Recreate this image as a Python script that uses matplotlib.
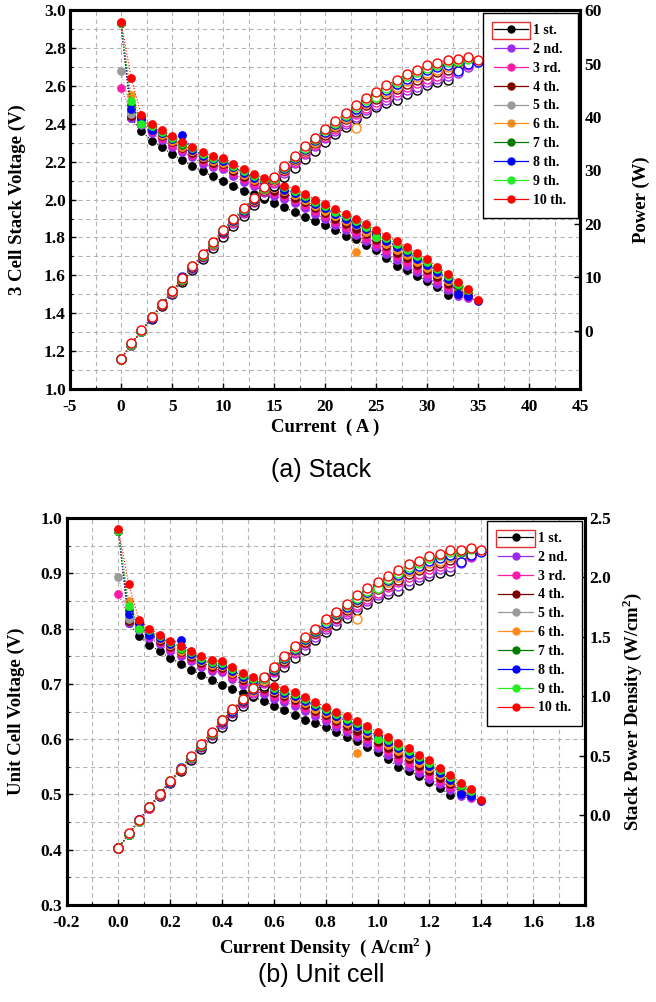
import numpy as np
import matplotlib
matplotlib.use("Agg")
import matplotlib.pyplot as plt
from matplotlib.lines import Line2D
from matplotlib.patches import Rectangle
from matplotlib.ticker import MultipleLocator, FixedLocator, FormatStrFormatter
from matplotlib.font_manager import FontProperties

# ---------------- data ----------------
current_A = [0, 1, 2, 3, 4, 5, 6, 7, 8, 9, 10, 11, 12, 13, 14, 15, 16, 17,
             18, 19, 20, 21, 22, 23, 24, 25, 26, 27, 28, 29, 30, 31, 32, 33, 34, 35]
current_density = [0.00, 0.04, 0.08, 0.12, 0.16, 0.20, 0.24, 0.28, 0.32, 0.36, 0.40, 0.44,
                   0.48, 0.52, 0.56, 0.60, 0.64, 0.68, 0.72, 0.76, 0.80, 0.84, 0.88, 0.92,
                   0.96, 1.00, 1.04, 1.08, 1.12, 1.16, 1.20, 1.24, 1.28, 1.32, 1.36, 1.40]

# 3-cell stack voltage (V)
v_1st = [2.93, 2.43, 2.36, 2.312, 2.277, 2.24, 2.21, 2.175, 2.15, 2.122, 2.096, 2.074,
         2.048, 2.03, 2.005, 1.982, 1.96, 1.933, 1.906, 1.886, 1.865, 1.84, 1.81, 1.792,
         1.76, 1.733, 1.69, 1.65, 1.628, 1.598, 1.57, 1.536, 1.497]
v_2nd = [2.93, 2.43, 2.395, 2.35, 2.315, 2.28, 2.25, 2.225, 2.19, 2.17, 2.162, 2.125,
         2.095, 2.07, 2.045, 2.02, 2.004, 1.981, 1.955, 1.925, 1.897, 1.868, 1.839, 1.813,
         1.781, 1.75, 1.715, 1.68, 1.651, 1.616, 1.586, 1.555, 1.522, 1.493, 1.478]
v_3rd = [2.59, 2.46, 2.405, 2.36, 2.325, 2.29, 2.261, 2.236, 2.202, 2.182, 2.174, 2.138,
         2.108, 2.083, 2.059, 2.034, 2.018, 1.996, 1.97, 1.94, 1.913, 1.884, 1.856, 1.83,
         1.799, 1.768, 1.734, 1.70, 1.671, 1.636, 1.606, 1.573, 1.539, 1.507, 1.488]
v_4th = [2.93, 2.44, 2.415, 2.37, 2.335, 2.302, 2.272, 2.247, 2.214, 2.194, 2.186, 2.151,
         2.121, 2.096, 2.073, 2.048, 2.032, 2.011, 1.985, 1.955, 1.929, 1.90, 1.873, 1.847,
         1.817, 1.786, 1.753, 1.72, 1.691, 1.656, 1.626, 1.591, 1.556, 1.521, 1.498]
v_5th = [2.68, 2.45, 2.425, 2.38, 2.345, 2.313, 2.283, 2.258, 2.226, 2.206, 2.198, 2.164,
         2.134, 2.109, 2.087, 2.062, 2.046, 2.026, 2.0, 1.97, 1.945, 1.916, 1.89, 1.864,
         1.835, 1.804, 1.772, 1.74, 1.711, 1.676, 1.646, 1.609, 1.573, 1.535, 1.508]
v_6th = [2.93, 2.55, 2.42, 2.378, 2.343, 2.31, 2.28, 2.255, 2.223, 2.203, 2.195, 2.161,
         2.131, 2.106, 2.084, 2.059, 2.043, 2.022, 1.996, 1.966, 1.941, 1.912, 1.886, 1.725,
         1.831, 1.80, 1.767, 1.735, 1.706, 1.671, 1.641, 1.605, 1.569, 1.532, 1.505]
v_7th = [2.93, 2.50, 2.433, 2.388, 2.353, 2.32, 2.29, 2.266, 2.235, 2.215, 2.207, 2.174,
         2.144, 2.119, 2.098, 2.073, 2.057, 2.037, 2.011, 1.981, 1.957, 1.928, 1.903, 1.877,
         1.849, 1.818, 1.786, 1.755, 1.726, 1.691, 1.661, 1.623, 1.586, 1.546, 1.516]
v_8th = [2.93, 2.48, 2.43, 2.365, 2.35, 2.318, 2.339, 2.264, 2.232, 2.212, 2.204, 2.17,
         2.14, 2.115, 2.094, 2.069, 2.053, 2.034, 2.008, 1.978, 1.953, 1.924, 1.898, 1.872,
         1.844, 1.813, 1.782, 1.75, 1.721, 1.686, 1.656, 1.618, 1.581, 1.50, 1.49, 1.462]
v_9th = [2.93, 2.52, 2.40, 2.39, 2.358, 2.327, 2.297, 2.272, 2.241, 2.221, 2.213, 2.18,
         2.15, 2.125, 2.104, 2.08, 2.064, 2.045, 2.019, 1.989, 1.965, 1.936, 1.911, 1.885,
         1.857, 1.80, 1.796, 1.765, 1.736, 1.701, 1.671, 1.632, 1.594, 1.553, 1.52]
v_10th = [2.94, 2.64, 2.445, 2.40, 2.365, 2.335, 2.305, 2.28, 2.25, 2.23, 2.222, 2.19,
          2.16, 2.135, 2.115, 2.09, 2.074, 2.056, 2.03, 2.0, 1.977, 1.948, 1.924, 1.898,
          1.871, 1.84, 1.81, 1.78, 1.751, 1.716, 1.686, 1.645, 1.607, 1.563, 1.528, 1.47]

# stack power (W) as read against the right axis of panel (a)
p_1st = [-5.25, -2.61, -0.12, 2.29, 4.66, 6.93, 9.17, 11.31, 13.46, 15.52, 17.54, 19.56,
         21.48, 23.45, 25.28, 27.08, 28.85, 30.49, 32.06, 33.72, 35.31, 36.77, 38.05, 39.57,
         40.69, 41.87, 42.54, 43.20, 44.32, 45.15, 45.97, 46.53, 46.85]
p_2nd = [-5.25, -2.61, -0.04, 2.42, 4.82, 7.15, 9.43, 11.69, 13.80, 15.99, 18.26, 20.17,
         22.09, 24.01, 25.88, 27.70, 29.62, 31.37, 33.02, 34.53, 36.01, 37.41, 38.75, 40.10,
         41.23, 42.33, 43.24, 44.08, 45.02, 45.72, 46.49, 47.17, 47.72, 48.33, 49.40]
p_3rd = [-5.25, -2.57, -0.02, 2.45, 4.86, 7.20, 9.50, 11.77, 13.91, 16.11, 18.39, 20.33,
         22.26, 24.20, 26.10, 27.93, 29.86, 31.65, 33.31, 34.84, 36.36, 37.78, 39.15, 40.52,
         41.70, 42.82, 43.78, 44.67, 45.63, 46.35, 47.15, 47.78, 48.31, 48.83, 49.77]
p_4th = [-5.25, -2.60, 0.00, 2.48, 4.91, 7.27, 9.58, 11.86, 14.01, 16.22, 18.52, 20.48,
         22.43, 24.38, 26.31, 28.16, 30.11, 31.93, 33.61, 35.15, 36.71, 38.14, 39.56, 40.95,
         42.17, 43.31, 44.32, 45.25, 46.24, 46.98, 47.80, 48.39, 48.90, 49.34, 50.14]
p_5th = [-5.25, -2.59, 0.02, 2.51, 4.95, 7.33, 9.65, 11.94, 14.12, 16.34, 18.65, 20.64,
         22.60, 24.57, 26.52, 28.39, 30.35, 32.21, 33.90, 35.46, 37.05, 38.51, 39.97, 41.37,
         42.64, 43.80, 44.85, 45.84, 46.85, 47.61, 48.45, 48.99, 49.49, 49.84, 50.51]
p_6th = [-5.25, -2.48, 0.01, 2.51, 4.94, 7.31, 9.63, 11.92, 14.09, 16.31, 18.62, 20.60,
         22.56, 24.52, 26.48, 28.34, 30.30, 32.13, 33.82, 35.37, 36.97, 38.42, 39.87, 37.90,
         42.54, 43.69, 44.71, 45.69, 46.70, 47.45, 48.29, 48.86, 49.35, 49.73, 50.40]
p_7th = [-5.25, -2.53, 0.04, 2.54, 4.99, 7.37, 9.69, 12.00, 14.20, 16.43, 18.75, 20.76,
         22.73, 24.71, 26.69, 28.57, 30.54, 32.41, 34.12, 35.68, 37.32, 38.78, 40.28, 41.70,
         43.01, 44.18, 45.25, 46.28, 47.31, 48.08, 48.94, 49.47, 49.94, 50.23, 50.80]
p_8th = [-5.25, -2.55, 0.04, 2.47, 4.97, 7.35, 10.01, 11.99, 14.17, 16.40, 18.72, 20.71,
         22.68, 24.65, 26.63, 28.50, 30.47, 32.35, 34.06, 35.62, 37.23, 38.69, 40.16, 41.57,
         42.88, 44.04, 45.14, 46.13, 47.15, 47.92, 48.78, 49.30, 49.77, 48.58, 49.84, 50.40]
p_9th = [-5.25, -2.51, -0.03, 2.55, 5.01, 7.40, 9.74, 12.05, 14.25, 16.49, 18.82, 20.83,
         22.81, 24.79, 26.78, 28.68, 30.66, 32.56, 34.27, 35.85, 37.49, 38.96, 40.47, 41.90,
         43.22, 43.69, 45.53, 46.58, 47.61, 48.40, 49.27, 49.77, 50.22, 50.48, 50.95]
p_10th = [-5.25, -2.38, 0.07, 2.58, 5.04, 7.45, 9.79, 12.11, 14.33, 16.58, 18.91, 20.95,
          22.94, 24.93, 26.95, 28.84, 30.84, 32.76, 34.49, 36.08, 37.75, 39.24, 40.78, 42.22,
          43.58, 44.78, 45.93, 47.02, 48.07, 48.87, 49.76, 50.21, 50.67, 50.84, 51.25, 50.70]

# stack power density (W/cm2) as read against the right axis of panel (b)
pd_1st = [-0.28, -0.16, -0.05, 0.06, 0.16, 0.27, 0.37, 0.46, 0.56, 0.65, 0.74, 0.83,
          0.92, 1.01, 1.09, 1.17, 1.25, 1.32, 1.39, 1.47, 1.54, 1.60, 1.66, 1.73,
          1.78, 1.83, 1.86, 1.89, 1.94, 1.98, 2.01, 2.04, 2.05]
pd_2nd = [-0.28, -0.16, -0.05, 0.06, 0.17, 0.28, 0.38, 0.48, 0.57, 0.67, 0.77, 0.86,
          0.94, 1.03, 1.11, 1.20, 1.28, 1.36, 1.43, 1.50, 1.57, 1.63, 1.69, 1.75,
          1.80, 1.85, 1.89, 1.93, 1.97, 2.00, 2.04, 2.07, 2.09, 2.12, 2.17]
pd_3rd = [-0.28, -0.16, -0.05, 0.06, 0.17, 0.28, 0.38, 0.48, 0.58, 0.68, 0.78, 0.87,
          0.95, 1.04, 1.12, 1.21, 1.29, 1.37, 1.45, 1.52, 1.58, 1.65, 1.71, 1.77,
          1.82, 1.87, 1.92, 1.96, 2.00, 2.03, 2.07, 2.10, 2.12, 2.14, 2.18]
pd_4th = [-0.28, -0.16, -0.04, 0.07, 0.18, 0.28, 0.38, 0.49, 0.58, 0.68, 0.78, 0.87,
          0.96, 1.05, 1.13, 1.22, 1.30, 1.39, 1.46, 1.53, 1.60, 1.66, 1.73, 1.79,
          1.84, 1.90, 1.94, 1.98, 2.03, 2.06, 2.10, 2.12, 2.15, 2.17, 2.20]
pd_5th = [-0.28, -0.16, -0.04, 0.07, 0.18, 0.28, 0.39, 0.49, 0.59, 0.69, 0.79, 0.88,
          0.97, 1.06, 1.14, 1.23, 1.31, 1.40, 1.47, 1.54, 1.62, 1.68, 1.75, 1.81,
          1.87, 1.92, 1.96, 2.01, 2.05, 2.09, 2.13, 2.15, 2.17, 2.19, 2.22]
pd_6th = [-0.28, -0.16, -0.04, 0.07, 0.18, 0.28, 0.39, 0.49, 0.59, 0.69, 0.79, 0.88,
          0.97, 1.05, 1.14, 1.23, 1.31, 1.40, 1.47, 1.54, 1.61, 1.68, 1.74, 1.65,
          1.86, 1.91, 1.96, 2.00, 2.05, 2.08, 2.12, 2.14, 2.17, 2.18, 2.21]
pd_7th = [-0.28, -0.16, -0.04, 0.07, 0.18, 0.29, 0.39, 0.49, 0.59, 0.69, 0.80, 0.88,
          0.97, 1.06, 1.15, 1.23, 1.32, 1.41, 1.48, 1.55, 1.63, 1.69, 1.76, 1.82,
          1.88, 1.93, 1.98, 2.03, 2.07, 2.11, 2.15, 2.17, 2.19, 2.21, 2.23]
pd_8th = [-0.28, -0.16, -0.04, 0.07, 0.18, 0.28, 0.40, 0.49, 0.59, 0.69, 0.79, 0.88,
          0.97, 1.06, 1.15, 1.23, 1.32, 1.40, 1.48, 1.55, 1.62, 1.69, 1.75, 1.82,
          1.88, 1.93, 1.98, 2.02, 2.07, 2.10, 2.14, 2.16, 2.19, 2.13, 2.19, 2.21]
pd_9th = [-0.28, -0.16, -0.05, 0.07, 0.18, 0.29, 0.39, 0.49, 0.59, 0.69, 0.80, 0.89,
          0.98, 1.07, 1.15, 1.24, 1.33, 1.41, 1.49, 1.56, 1.63, 1.70, 1.77, 1.83,
          1.89, 1.91, 1.99, 2.04, 2.09, 2.12, 2.16, 2.19, 2.21, 2.22, 2.24]
pd_10th = [-0.28, -0.15, -0.04, 0.07, 0.18, 0.29, 0.39, 0.50, 0.60, 0.70, 0.80, 0.89,
           0.98, 1.07, 1.16, 1.25, 1.34, 1.42, 1.50, 1.57, 1.65, 1.71, 1.78, 1.85,
           1.91, 1.96, 2.01, 2.06, 2.11, 2.14, 2.18, 2.20, 2.23, 2.23, 2.25, 2.23]

series_labels = ["1 st.", "2 nd.", "3 rd.", "4 th.", "5 th.",
                 "6 th.", "7 th.", "8 th.", "9 th.", "10 th."]
series_colors = ["#000000", "#9a2cf0", "#ff1aa8", "#7a0000", "#9a9a9a",
                 "#ff8c1a", "#007a00", "#0000ff", "#22ee22", "#ff0000"]
stack_voltages = [v_1st, v_2nd, v_3rd, v_4th, v_5th, v_6th, v_7th, v_8th, v_9th, v_10th]
stack_powers = [p_1st, p_2nd, p_3rd, p_4th, p_5th, p_6th, p_7th, p_8th, p_9th, p_10th]
power_densities = [pd_1st, pd_2nd, pd_3rd, pd_4th, pd_5th, pd_6th, pd_7th, pd_8th,
                   pd_9th, pd_10th]

n_cells = 3  # unit cell voltage = stack voltage / number of cells

# ---------------- style ----------------
SERIF = "Liberation Serif"
tick_fp = FontProperties(family=SERIF, weight="bold", size=12.5)
lab_fp = FontProperties(family=SERIF, weight="bold", size=13.5)
leg_fp = FontProperties(family=SERIF, weight="bold", size=10)
grid_kw = dict(color="#b5b5b5", linestyle=(0, (4, 3)), linewidth=0.8)

fig = plt.figure(figsize=(6.56, 10.02), dpi=100)


def style_axes(ax, axr, xmaj, xmin, ymaj, ymin, rticks, rfmt, lfmt, xfmt):
    ax.xaxis.set_major_locator(MultipleLocator(xmaj))
    ax.xaxis.set_minor_locator(MultipleLocator(xmin))
    ax.yaxis.set_major_locator(MultipleLocator(ymaj))
    ax.yaxis.set_minor_locator(MultipleLocator(ymin))
    ax.yaxis.set_major_formatter(FormatStrFormatter(lfmt))
    ax.xaxis.set_major_formatter(FormatStrFormatter(xfmt))
    axr.yaxis.set_major_locator(FixedLocator(rticks))
    axr.yaxis.set_major_formatter(FormatStrFormatter(rfmt))
    ax.grid(True, which="both", **grid_kw)
    ax.set_axisbelow(True)
    for a in (ax, axr):
        for s in a.spines.values():
            s.set_linewidth(2.2)
        a.tick_params(which="major", direction="in", length=4, width=1, pad=3)
        a.tick_params(which="minor", direction="in", length=2, width=0.8)
        for lbl in a.get_xticklabels() + a.get_yticklabels():
            lbl.set_fontproperties(tick_fp)
    ax.tick_params(axis="x", which="major", pad=7)
    ax.tick_params(axis="y", which="both", right=False)
    axr.tick_params(axis="y", which="both", left=False)


def draw_panel(ax, axr, x_all, v_list, p_list, v_scale=1.0):
    for vs, c in zip(v_list, series_colors):
        xs = x_all[:len(vs)]
        ax.plot(xs, np.asarray(vs, dtype=float) / v_scale, linestyle=":", linewidth=0.8,
                color=c, marker="o", markersize=5.3, markerfacecolor=c,
                markeredgecolor=c, zorder=3)
    for ps, c in zip(p_list, series_colors):
        xs = x_all[:len(ps)]
        axr.plot(xs, ps, linestyle=":", linewidth=0.8, color=c, marker="o",
                 markersize=6.5, markerfacecolor="white", markeredgecolor=c,
                 markeredgewidth=1.0, zorder=3)


def add_legend(axr):
    handles = [Line2D([], [], color=c, linewidth=0.9, marker="o", markersize=5,
                      markerfacecolor=c, markeredgecolor=c) for c in series_colors]
    leg = axr.legend(handles, series_labels, loc="upper right", prop=leg_fp,
                     frameon=True, fancybox=False, edgecolor="black", framealpha=1,
                     borderaxespad=0.2, handlelength=2.5, labelspacing=0.42,
                     handletextpad=0.35, borderpad=0.8)
    leg.get_frame().set_linewidth(1.0)
    leg.set_zorder(10)
    return leg


# ---------------- (a) stack ----------------
ax1 = fig.add_axes([0.1067, 0.6118, 0.778, 0.378])
ax1r = ax1.twinx()
draw_panel(ax1, ax1r, current_A, stack_voltages, stack_powers)
ax1.set_xlim(-5, 45)
ax1.set_ylim(1.0, 3.0)
ax1r.set_ylim(-10.9, 60)
style_axes(ax1, ax1r, 5, 2.5, 0.2, 0.1, [0, 10, 20, 30, 40, 50, 60], "%d", "%.1f", "%d")
ax1.set_xlabel("Current  ( A )", fontproperties=lab_fp, labelpad=3)
ax1.set_ylabel("3 Cell Stack Voltage (V)", fontproperties=lab_fp, va="center")
ax1.yaxis.set_label_coords(-0.103, 0.5)
ax1r.set_ylabel("Power (W)", fontproperties=lab_fp, va="center", rotation=90)
ax1r.yaxis.set_label_coords(1.12, 0.5)
leg1 = add_legend(ax1r)

# ---------------- (b) unit cell ----------------
ax2 = fig.add_axes([0.1014, 0.0968, 0.7904, 0.3862])
ax2r = ax2.twinx()
draw_panel(ax2, ax2r, current_density, stack_voltages, power_densities, v_scale=n_cells)
ax2.set_xlim(-0.2, 1.8)
ax2.set_ylim(0.3, 1.0)
ax2r.set_ylim(-0.757, 2.5)
style_axes(ax2, ax2r, 0.2, 0.1, 0.1, 0.05, [0.0, 0.5, 1.0, 1.5, 2.0, 2.5], "%.1f", "%.1f", "%.1f")
ax2.set_xlabel("Current Density  ( A/cm$^\\mathregular{2}$ )", fontproperties=lab_fp, labelpad=3)
ax2.set_ylabel("Unit Cell Voltage (V)", fontproperties=lab_fp, va="center")
ax2.yaxis.set_label_coords(-0.096, 0.5)
ax2r.set_ylabel("Stack Power Density (W/cm$^\\mathregular{2}$)", fontproperties=lab_fp,
                va="center", rotation=90)
ax2r.yaxis.set_label_coords(1.09, 0.5)
leg2 = add_legend(ax2r)

# captions
fig.text(0.49, 0.531, "(a) Stack", ha="center", va="center", fontsize=18,
         family="Liberation Sans")
fig.text(0.49, 0.027, "(b) Unit cell", ha="center", va="center", fontsize=18,
         family="Liberation Sans")

# red selection box around the first legend handle
fig.canvas.draw()
renderer = fig.canvas.get_renderer()
W, H = fig.bbox.width, fig.bbox.height
for leg in (leg1, leg2):
    tb = leg.get_texts()[0].get_window_extent(renderer)
    fs_px = leg_fp.get_size_in_points() * fig.dpi / 72.0
    right = tb.x0 - 0.35 * fs_px + 2
    left = right - 2.5 * fs_px - 4
    yc = (tb.y0 + tb.y1) / 2
    rect = Rectangle((left / W, (yc - 8.5) / H), (right - left) / W, 17 / H,
                     transform=fig.transFigure, fill=False, edgecolor="#e03030",
                     linewidth=1.0, zorder=20)
    fig.add_artist(rect)

fig.savefig("out.png", dpi=100)
